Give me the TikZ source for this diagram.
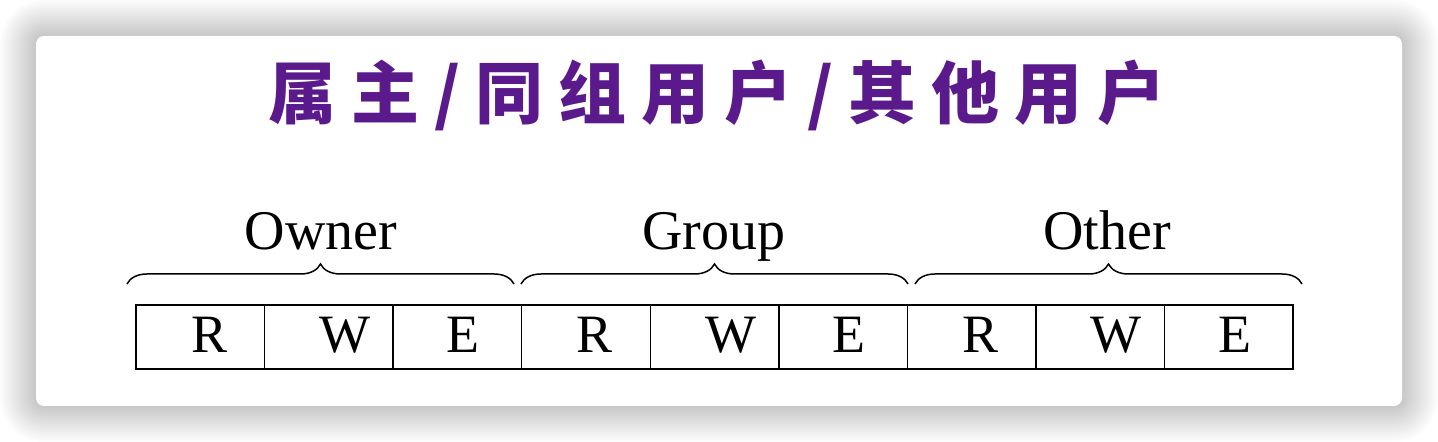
\documentclass[tikz,border=0pt]{standalone}
\usepackage{fontspec}
\setmainfont{Liberation Serif}
\newfontfamily\cjk[LetterSpace=22]{Noto Sans CJK SC}
\usetikzlibrary{decorations.pathreplacing}
\definecolor{titlepurple}{HTML}{5B1A8C}
\begin{document}
\begin{tikzpicture}[x=0.5pt,y=-0.5pt,
  cell/.style={draw,line width=0.75pt,minimum width=64.28pt,minimum height=32pt,inner sep=0pt},
  letter/.style={font=\fontsize{27}{27}\selectfont,inner sep=0pt,anchor=base},
  who/.style={font=\fontsize{28}{28}\selectfont,inner sep=0pt,anchor=base},
  grp/.style={decorate,decoration={brace,amplitude=10pt},line width=0.75pt},
  title/.style={font=\cjk\bfseries\fontsize{34}{34}\selectfont,text=titlepurple,inner sep=0pt}]
\useasboundingbox (0,0) rectangle (1438,442);
\fill[white] (0,0) rectangle (1438,442);
% card and its shadow
\foreach \s [evaluate=\s as \r using 4+\s/2] in {2,4,...,36}
  \fill[black,opacity=0.011,rounded corners=\r pt] (36-\s,36-\s) rectangle (1402+\s,406+\s);
\fill[white,rounded corners=4pt] (36,36) rectangle (1402,406);
\node[title] (head) at (717,95) {属主/同组用户/其他用户};
% permission cells
\foreach \i/\l/\d in {0/R/9,1/W/16,2/E/6,3/R/9,4/W/16,5/E/6,6/R/9,7/W/16,8/E/6}{
  \node[cell] (c\i) at ({136+128.56*(\i+0.5)},337) {};
  \node[letter] (t\i) at ([xshift=\d*0.5pt]c\i.center |- 0,353) {\l};
}
% braces
\coordinate (b0) at (127,284);
\coordinate (b1) at (514,284);
\coordinate (b2) at (521,284);
\coordinate (b3) at (908,284);
\coordinate (b4) at (915,284);
\coordinate (b5) at (1302,284);
\foreach \u/\v in {b0/b1,b2/b3,b4/b5}
  \draw[grp] (\u) -- (\v);
\node[who] (owner) at (321,250) {Owner};
\node[who] (group) at (714,250) {Group};
\node[who] (other) at (1107,250) {Other};
\end{tikzpicture}
\end{document}
